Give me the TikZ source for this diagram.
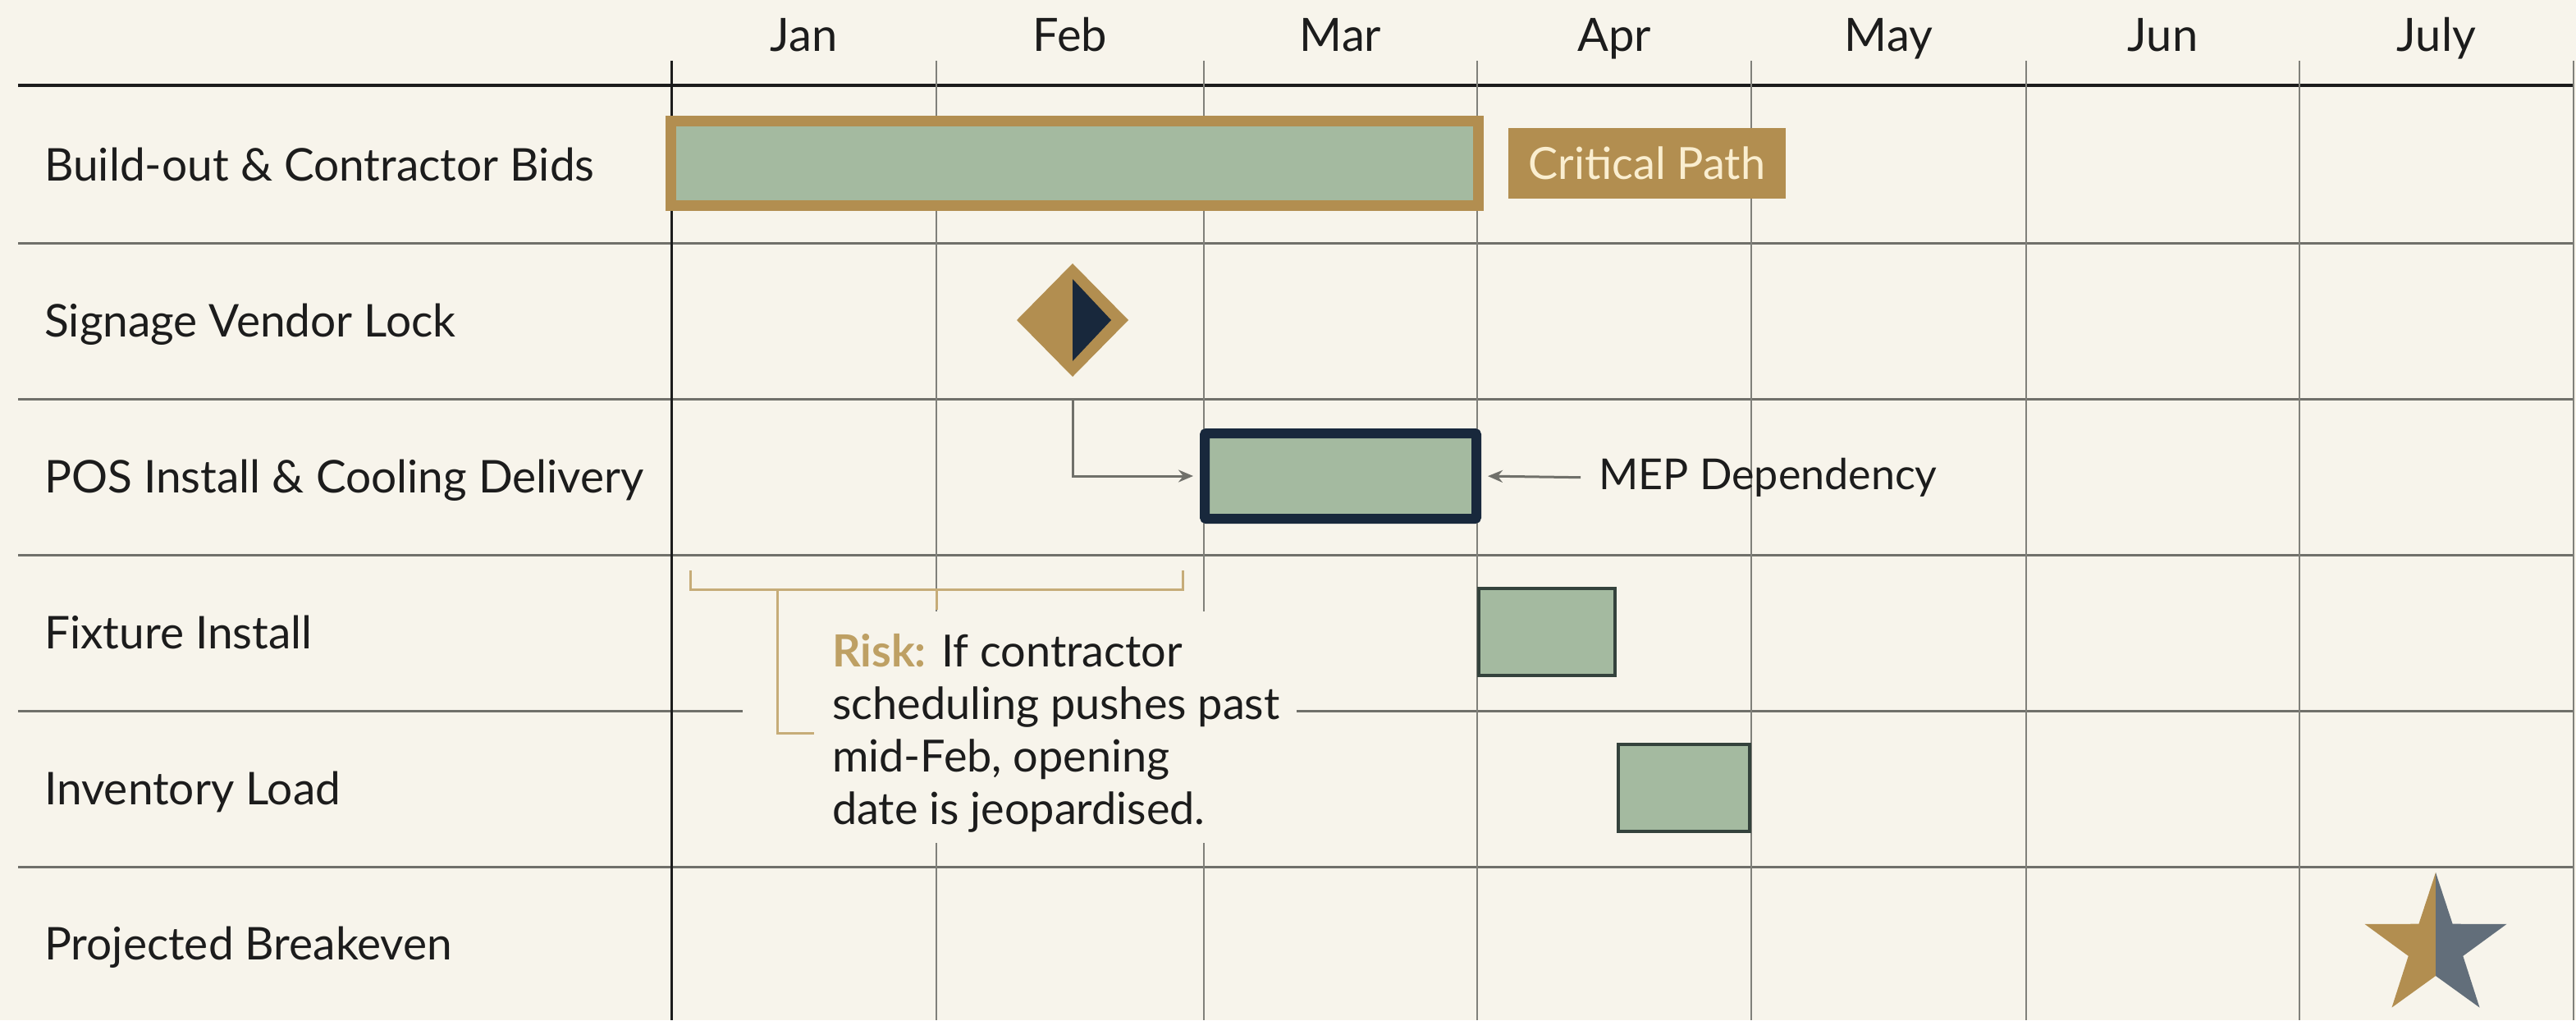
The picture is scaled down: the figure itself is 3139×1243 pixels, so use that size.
\documentclass[tikz,border=0pt]{standalone}
\usepackage{fontspec}
\setmainfont{Lato}
\usepackage{tikz}
\usetikzlibrary{arrows.meta}

\definecolor{paper}{RGB}{247,244,235}
\definecolor{gold}{RGB}{178,142,80}
\definecolor{goldlt}{RGB}{198,172,120}
\definecolor{riskgold}{RGB}{190,160,100}
\definecolor{sage}{RGB}{164,186,160}
\definecolor{navy}{RGB}{24,40,60}
\definecolor{barline}{RGB}{52,66,60}
\definecolor{rule}{RGB}{112,112,106}
\definecolor{vrule}{RGB}{128,128,122}
\definecolor{ink}{RGB}{28,28,28}
\definecolor{slate}{RGB}{98,110,122}
\definecolor{cream}{RGB}{250,238,208}

\begin{document}
\begin{tikzpicture}[x=1pt,y=1pt,yscale=-1,
  lbl/.style={font=\fontsize{54}{64}\selectfont, text=ink, inner sep=0pt},
  tasklbl/.style={font=\fontsize{55}{66}\selectfont, text=ink, inner sep=0pt, anchor=base west},
  month/.style={font=\fontsize{56}{66}\selectfont, text=ink, inner sep=0pt},
  taskbar/.style={draw, fill=sage, inner sep=0pt},
  dep/.style={draw=rule, line width=3pt, -{Stealth[length=18pt,width=15pt]}},
  bracket/.style={draw=goldlt, line width=3pt}]
\path[use as bounding box, fill=paper] (0,0) rectangle (3139,1243);

%Straight Lines: header rule and row rules
\draw[line width=4pt, ink] (22,104) -- (3136,104);
\foreach \y in {296,486,676,866,1056}
  \draw[line width=3pt, rule] (22,\y) -- (3136,\y);
%Straight Lines: month columns
\foreach \x in {1141,1467,1800,2134,2469,2802,3136}
  \draw[line width=2pt, vrule] (\x,74) -- (\x,1243);
\draw[line width=3pt, ink] (818,74) -- (818,1243);

% Text Node: months
\foreach \m/\x in {Jan/979.5,Feb/1304,Mar/1633.5,Apr/1967,May/2301.5,Jun/2635.5,July/2969}
  \node[month, anchor=base] (m-\m) at (\x,62) {\m};

% Text Node: tasks
\node[tasklbl] (task1) at (54,220) {Build-out \& Contractor Bids};
\node[tasklbl] (task2) at (54,410) {Signage Vendor Lock};
\node[tasklbl] (task3) at (54,600) {POS Install \& Cooling Delivery};
\node[tasklbl] (task4) at (54,790) {Fixture Install};
\node[tasklbl] (task5) at (54,980) {Inventory Load};
\node[tasklbl] (task6) at (54,1169) {Projected Breakeven};

%Shape: Rectangle [critical bar]
\node[taskbar, draw=gold, line width=13pt, minimum width=984pt, minimum height=103pt] (build) at (1309,198.5) {};
\node[fill=gold, text=cream, minimum width=338pt, minimum height=86pt, inner sep=0pt,
  font=\fontsize{54}{64}\selectfont] (crit) at (2007,199) {Critical Path};

%Shape: Diamond [milestone]
\fill[gold] (1307,321) -- (1375,390) -- (1307,459) -- (1239,390) -- cycle;
\fill[navy] (1307,340) -- (1354,390) -- (1307,440) -- cycle;
\coordinate (lockfoot) at (1307,486);

%Shape: Rectangle [pos bar]
\node[taskbar, draw=navy, line width=12pt, rounded corners=2pt, minimum width=331pt, minimum height=104pt] (pos) at (1633.5,580) {};
\node[lbl, anchor=west, font=\fontsize{52}{62}\selectfont] (mep) at (1948,582) {MEP Dependency};
\draw[dep, shorten >=8pt] (lockfoot) |- (pos.west);
\draw[dep, shorten <=22pt, shorten >=8pt] (mep.west) -- (pos.east);

%Shape: Rectangle [fixture, inventory]
\node[taskbar, draw=barline, line width=4pt, minimum width=166pt, minimum height=106pt] (fix) at (1885,770) {};
\node[taskbar, draw=barline, line width=4pt, minimum width=160pt, minimum height=106pt] (inv) at (2052,960) {};

% Risk note
\fill[paper] (905,745) rectangle (1580,1027);
\node[lbl, anchor=north west, align=left] (risk) at (1014,772)
  {\textcolor{riskgold}{\textbf{Risk:}} If contractor\\scheduling pushes past\\mid-Feb, opening\\date is jeopardised.};
\draw[bracket] (841,695) -- (841,718) -- (1441,718) -- (1441,695);
\draw[bracket] (1141,718) -- (1141,743);
\draw[bracket] (947,718) |- ([xshift=-22pt]risk.west);

%Shape: Star [breakeven]
\fill[gold] (2968,1063) -- (2947.4,1125.7) -- (2881.5,1125.9) -- (2934.7,1164.8) -- (2914.5,1227.6) -- (2968,1189) -- cycle;
\fill[slate] (2968,1063) -- (2988.6,1125.7) -- (3054.5,1125.9) -- (3001.3,1164.8) -- (3021.5,1227.6) -- (2968,1189) -- cycle;

\end{tikzpicture}
\end{document}
